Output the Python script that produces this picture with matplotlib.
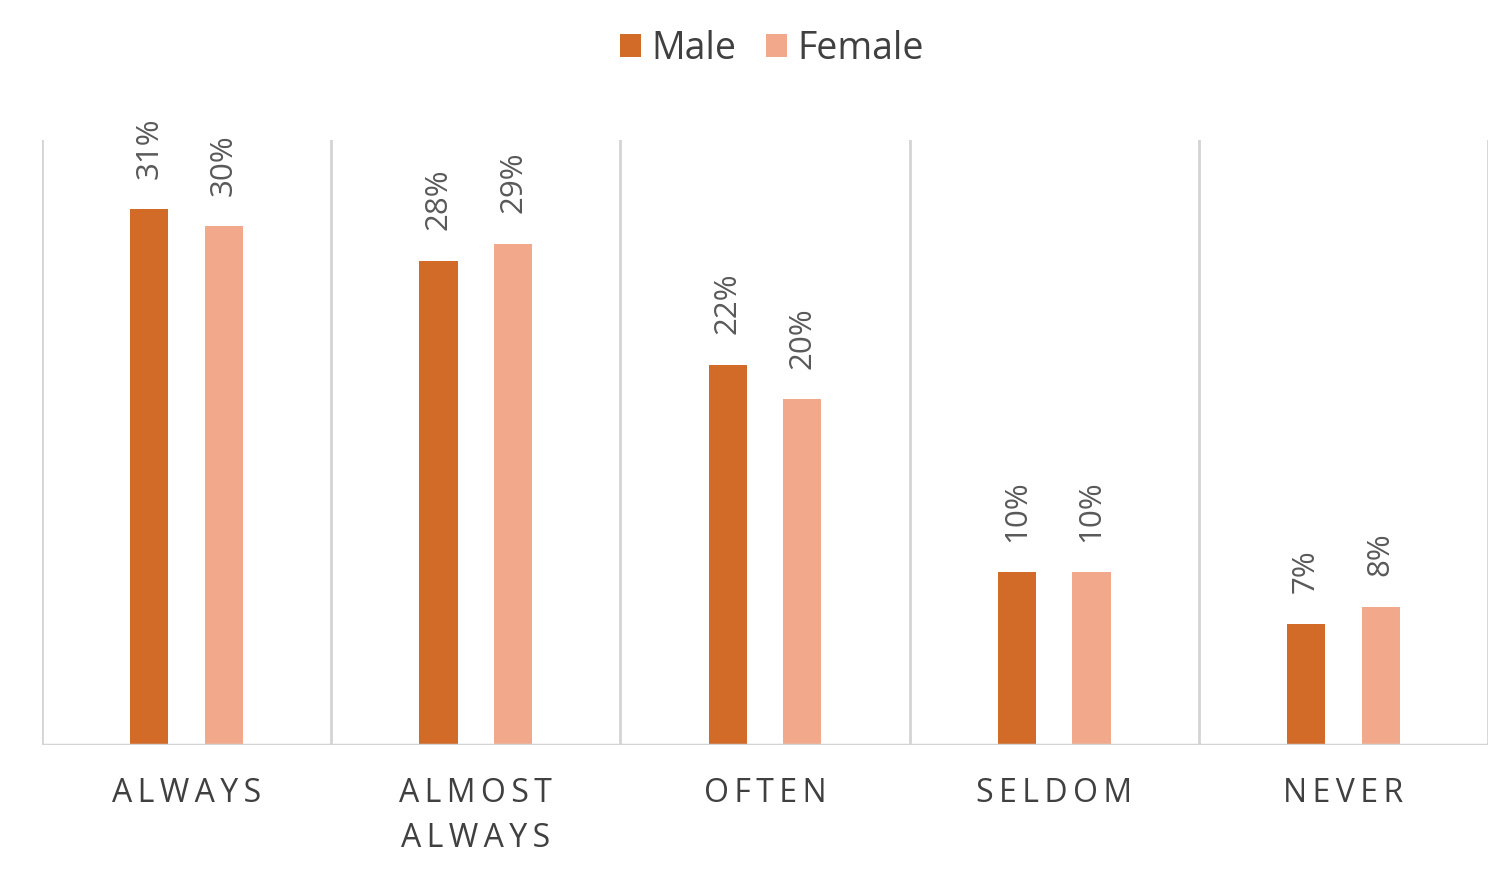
import matplotlib
matplotlib.use("Agg")
import matplotlib.pyplot as plt
import numpy as np

categories = ["ALWAYS", "ALMOST\nALWAYS", "OFTEN", "SELDOM", "NEVER"]
male = [31, 28, 22, 10, 7]
female = [30, 29, 20, 10, 8]
series_names = ["Male", "Female"]

male_color = "#D26A28"
female_color = "#F2A98B"
text_color = "#595959"
grid_color = "#D4D4D4"

plt.rcParams['font.family'] = ['Open Sans', 'DejaVu Sans']


def spaced(label):
    # fake letter spacing with thin spaces
    return "\n".join("\u2009".join(line) for line in label.split("\n"))


fig = plt.figure(figsize=(15.12, 8.71), dpi=100)
ax = fig.add_axes([42 / 1512, 1 - 745 / 871, 1446 / 1512, 605 / 871])

x = np.arange(len(categories))
bar_width = 0.132
offset = 0.129

bars1 = ax.bar(x - offset, male, bar_width, color=male_color, label=series_names[0], zorder=2)
bars2 = ax.bar(x + offset, female, bar_width, color=female_color, label=series_names[1], zorder=2)

# labels above each bar, rotated
for bars in [bars1, bars2]:
    for bar in bars:
        h = bar.get_height()
        ax.annotate(f"{h:.0f}%", (bar.get_x() + bar.get_width() / 2, h),
                    xytext=(0, 22), textcoords="offset points",
                    rotation=90, ha="center", va="bottom",
                    fontsize=22.5, color=text_color)

ax.set_xlim(-0.5, len(categories) - 0.5)
ax.set_ylim(0, 35)

# vertical separators between categories
for b in np.arange(-0.5, len(categories), 1.0):
    ax.axvline(b, color=grid_color, linewidth=2, zorder=1)
ax.axhline(0, color=grid_color, linewidth=2.5, zorder=3)

for s in ax.spines.values():
    s.set_visible(False)
ax.set_yticks([])
ax.set_xticks(x)
ax.set_xticklabels([spaced(c) for c in categories], fontsize=23, color="#404040",
                   linespacing=1.5, va="top")
ax.tick_params(axis="x", length=0, pad=23)

fig.legend(handles=[bars1, bars2], labels=series_names, loc="center",
           bbox_to_anchor=(772 / 1512, 1 - 49 / 871), ncol=2, frameon=False,
           fontsize=27, labelcolor="#404040", handlelength=0.55, handleheight=0.55,
           handletextpad=0.28, columnspacing=0.8)

fig.savefig("out.png", dpi=100)
